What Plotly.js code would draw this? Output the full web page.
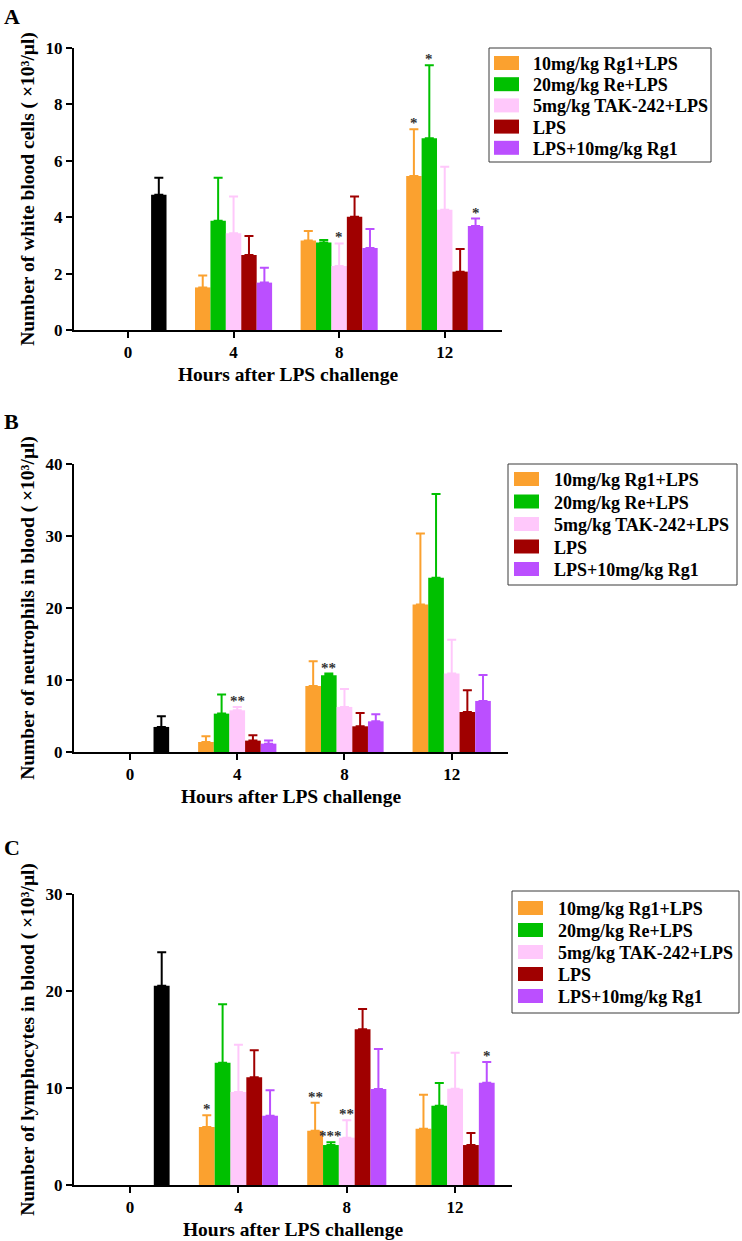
<!DOCTYPE html>
<html>
<head>
<meta charset="utf-8">
<script src="https://cdn.plot.ly/plotly-3.0.1.min.js"></script>
<style>html,body{margin:0;padding:0;background:#fff;}#chart{width:742px;height:1241px;}</style>
</head>
<body>
<div id="chart"></div>
<script>
// ---------- data ----------
const hourLabels = ['0', '4', '8', '12'];
const hours = [0, 4, 8, 12];
const controlHours = [0];
const treatHours = [4, 8, 12];
const seriesNames = ['10mg/kg Rg1+LPS', '20mg/kg Re+LPS', '5mg/kg TAK-242+LPS', 'LPS', 'LPS+10mg/kg Rg1'];
const seriesColors = ['#FBA12F', '#00C000', '#FFC8FB', '#A00000', '#BB4FFF'];
const controlColor = '#000000';

// Panel A: white blood cells
const wbcControl = [4.8];
const wbcControlErr = [0.6];
const wbcRg1 = [1.51, 3.17, 5.46];
const wbcRg1Err = [0.42, 0.34, 1.66];
const wbcRe = [3.87, 3.10, 6.80];
const wbcReErr = [1.53, 0.09, 2.59];
const wbcTak = [3.43, 2.27, 4.26];
const wbcTakErr = [1.30, 0.80, 1.53];
const wbcLps = [2.66, 4.02, 2.07];
const wbcLpsErr = [0.67, 0.71, 0.80];
const wbcLpsRg1 = [1.68, 2.91, 3.69];
const wbcLpsRg1Err = [0.53, 0.67, 0.26];
const wbcStars = [['', '', '*'], ['', '', '*'], ['', '*', ''], ['', '', ''], ['', '', '*']];

// Panel B: neutrophils
const neuControl = [3.48];
const neuControlErr = [1.48];
const neuRg1 = [1.39, 9.18, 20.49];
const neuRg1Err = [0.79, 3.42, 9.87];
const neuRe = [5.33, 10.66, 24.19];
const neuReErr = [2.64, 0.24, 11.64];
const neuTak = [5.79, 6.26, 10.9];
const neuTakErr = [0.47, 2.50, 4.7];
const neuLps = [1.58, 3.57, 5.56];
const neuLpsErr = [0.74, 1.85, 3.01];
const neuLpsRg1 = [1.16, 4.26, 7.09];
const neuLpsRg1Err = [0.42, 0.98, 3.6];
const neuStars = [['', '', ''], ['', '**', ''], ['**', '', ''], ['', '', ''], ['', '', '']];

// Panel C: lymphocytes
const lymControl = [20.55];
const lymControlErr = [3.44];
const lymRg1 = [5.98, 5.60, 5.80];
const lymRg1Err = [1.20, 2.89, 3.51];
const lymRe = [12.61, 4.12, 8.18];
const lymReErr = [6.02, 0.28, 2.34];
const lymTak = [9.59, 4.88, 9.93];
const lymTakErr = [4.88, 1.79, 3.71];
const lymLps = [11.10, 16.05, 4.12];
const lymLpsErr = [2.78, 2.09, 1.24];
const lymLpsRg1 = [7.15, 9.90, 10.55];
const lymLpsRg1Err = [2.61, 4.12, 2.13];
const lymStars = [['*', '**', ''], ['', '***', ''], ['', '**', ''], ['', '', ''], ['', '', '*']];

// ---------- build ----------
const FONT = '"Liberation Serif", "Times New Roman", serif';
const BW = 0.584; // bar width in hours
const W = 742, H = 1241;

const panels = [
  {ax: '', ctrl: wbcControl, ctrlErr: wbcControlErr,
   means: [wbcRg1, wbcRe, wbcTak, wbcLps, wbcLpsRg1],
   errs: [wbcRg1Err, wbcReErr, wbcTakErr, wbcLpsErr, wbcLpsRg1Err], stars: wbcStars,
   leg: {x0: 489, x1: 711, y0: 48, y1: 162, row0: 63, rowH: 21.2, sw0: 494, sw1: 519, tx: 531}},
  {ax: '2', ctrl: neuControl, ctrlErr: neuControlErr,
   means: [neuRg1, neuRe, neuTak, neuLps, neuLpsRg1],
   errs: [neuRg1Err, neuReErr, neuTakErr, neuLpsErr, neuLpsRg1Err], stars: neuStars,
   leg: {x0: 508, x1: 737, y0: 464, y1: 585, row0: 479, rowH: 22.5, sw0: 514, sw1: 539, tx: 552}},
  {ax: '3', ctrl: lymControl, ctrlErr: lymControlErr,
   means: [lymRg1, lymRe, lymTak, lymLps, lymLpsRg1],
   errs: [lymRg1Err, lymReErr, lymTakErr, lymLpsErr, lymLpsRg1Err], stars: lymStars,
   leg: {x0: 512, x1: 739, y0: 891, y1: 1013, row0: 908, rowH: 22, sw0: 518, sw1: 543, tx: 556}}
];

const traces = [];
const annotations = [];
const shapes = [];
const px = v => v / W;
const py = v => 1 - v / H;

panels.forEach(p => {
  const xa = 'x' + p.ax, ya = 'y' + p.ax;
  traces.push({
    type: 'bar', x: controlHours, y: p.ctrl, xaxis: xa, yaxis: ya,
    width: BW, offset: 1.5 * BW,
    marker: {color: controlColor, line: {width: 0}},
    error_y: {type: 'data', symmetric: false, array: p.ctrlErr, arrayminus: p.ctrlErr.map(() => 0),
              color: controlColor, thickness: 2, width: 4.5},
    showlegend: false, hoverinfo: 'skip'
  });
  p.means.forEach((m, k) => {
    traces.push({
      type: 'bar', name: seriesNames[k], x: treatHours, y: m, xaxis: xa, yaxis: ya,
      width: BW, offset: (k - 2.5) * BW, showlegend: false,
      marker: {color: seriesColors[k], line: {width: 0}},
      error_y: {type: 'data', symmetric: false, array: p.errs[k], arrayminus: p.errs[k].map(() => 0),
                color: seriesColors[k], thickness: 2, width: 4.5}
    });
    p.stars[k].forEach((s, i) => {
      if (!s) return;
      annotations.push({
        xref: xa, yref: ya, x: treatHours[i] + (k - 2) * BW, y: m[i] + p.errs[k][i],
        text: s, showarrow: false, yanchor: 'bottom', yshift: -4,
        font: {family: FONT, size: 15, color: '#333333', weight: 'bold'}
      });
    });
  });
  // legend box (drawn as shapes + text)
  const L = p.leg;
  shapes.push({type: 'rect', xref: 'paper', yref: 'paper', x0: px(L.x0), x1: px(L.x1), y0: py(L.y1), y1: py(L.y0),
    line: {color: '#3a3a3a', width: 1}, fillcolor: 'rgba(0,0,0,0)'});
  seriesNames.forEach((nm, k) => {
    const cy = L.row0 + k * L.rowH;
    shapes.push({type: 'rect', xref: 'paper', yref: 'paper', x0: px(L.sw0), x1: px(L.sw1),
      y0: py(cy + 7), y1: py(cy - 7), line: {width: 0}, fillcolor: seriesColors[k]});
    annotations.push({xref: 'paper', yref: 'paper', x: px(L.tx), y: py(cy + 1), xanchor: 'left', yanchor: 'middle',
      showarrow: false, text: nm, font: {family: FONT, size: 18, color: '#000', weight: 'bold'}});
  });
});

const tickFont = {family: FONT, size: 17, color: '#000', weight: 'bold'};
const titleFont = {family: FONT, size: 19.5, color: '#000', weight: 'bold'};
function xAxis(dom, range, anchor) {
  return {domain: dom, range: range, anchor: anchor, tickvals: hours, ticktext: hourLabels,
    showline: true, linecolor: '#000', linewidth: 2, ticks: 'outside', ticklen: 6, tickwidth: 2, tickcolor: '#000',
    showgrid: false, zeroline: false, tickfont: tickFont, fixedrange: true,
    title: {text: 'Hours after LPS challenge', font: titleFont, standoff: 6}};
}
function yAxis(dom, range, dtick, anchor, title) {
  return {domain: dom, range: range, anchor: anchor, dtick: dtick, tick0: 0,
    showline: true, linecolor: '#000', linewidth: 2, ticks: 'outside', ticklen: 6, tickwidth: 2, tickcolor: '#000',
    showgrid: false, zeroline: false, tickfont: tickFont, fixedrange: true,
    title: {text: title, font: titleFont, standoff: 6}};
}

const layout = {
  width: W, height: H, margin: {l: 0, r: 0, t: 0, b: 0},
  paper_bgcolor: '#fff', plot_bgcolor: '#fff', barmode: 'overlay', showlegend: false,
  xaxis: xAxis([px(74), px(502)], [-2.045, 14.17], 'y'),
  yaxis: yAxis([py(330), py(48)], [0, 10], 2, 'x', 'Number of white blood cells ( ×10³/μl)'),
  xaxis2: xAxis([px(74), px(508)], [-2.09, 14.1], 'y2'),
  yaxis2: yAxis([py(752), py(464)], [0, 40], 10, 'x2', 'Number of neutrophils in blood ( ×10³/μl)'),
  xaxis3: xAxis([px(74), px(512)], [-2.07, 14.1], 'y3'),
  yaxis3: yAxis([py(1185), py(894)], [0, 30], 10, 'x3', 'Number of lymphocytes in blood ( ×10³/μl)'),
  shapes: shapes,
  annotations: annotations.concat([
    {xref: 'paper', yref: 'paper', x: px(2), y: py(2), xanchor: 'left', yanchor: 'top', showarrow: false,
     text: 'A', font: {family: FONT, size: 22, color: '#000', weight: 'bold'}},
    {xref: 'paper', yref: 'paper', x: px(2), y: py(407), xanchor: 'left', yanchor: 'top', showarrow: false,
     text: 'B', font: {family: FONT, size: 22, color: '#000', weight: 'bold'}},
    {xref: 'paper', yref: 'paper', x: px(2), y: py(833), xanchor: 'left', yanchor: 'top', showarrow: false,
     text: 'C', font: {family: FONT, size: 22, color: '#000', weight: 'bold'}}
  ])
};

Plotly.newPlot('chart', traces, layout, {staticPlot: true, displayModeBar: false});
</script>
</body>
</html>
